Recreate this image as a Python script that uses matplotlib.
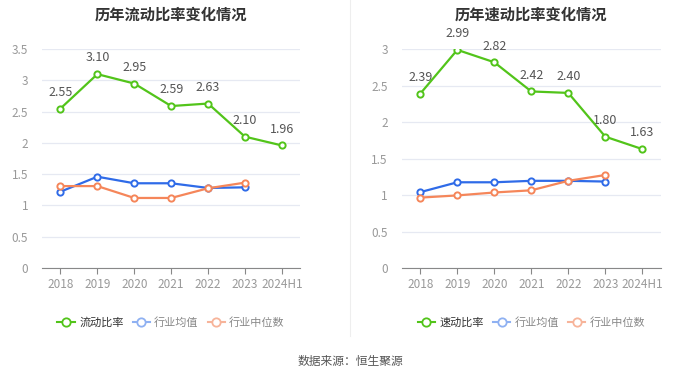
import matplotlib
matplotlib.use("Agg")
import matplotlib.pyplot as plt
from matplotlib.lines import Line2D

plt.rcParams['font.family'] = ['Noto Sans CJK SC', 'DejaVu Sans']

years = ['2018', '2019', '2020', '2021', '2022', '2023', '2024H1']

current_ratio = [2.55, 3.10, 2.95, 2.59, 2.63, 2.10, 1.96]
current_avg = [1.22, 1.46, 1.355, 1.355, 1.28, 1.29]
current_median = [1.31, 1.31, 1.12, 1.12, 1.275, 1.365]

quick_ratio = [2.39, 2.99, 2.82, 2.42, 2.40, 1.80, 1.63]
quick_avg = [1.04, 1.175, 1.175, 1.195, 1.195, 1.185]
quick_median = [0.965, 0.995, 1.035, 1.065, 1.195, 1.275]

GREEN = '#52c41a'
BLUE = '#2f6be8'
ORANGE = '#f5865a'
GRID = '#e6e9f2'
TICK = '#999999'


def draw(ax, title, main, avg, med, main_name, ymax):
    x = list(range(len(years)))
    ax.plot(x, main, color=GREEN, lw=1.6, marker='o', ms=4.5,
            mfc='white', mec=GREEN, mew=1.4, zorder=4)
    ax.plot(x[:len(avg)], avg, color=BLUE, lw=1.6, marker='o', ms=4.5,
            mfc='white', mec=BLUE, mew=1.4, zorder=3)
    ax.plot(x[:len(med)], med, color=ORANGE, lw=1.6, marker='o', ms=4.5,
            mfc='white', mec=ORANGE, mew=1.4, zorder=3)
    for i, v in enumerate(main):
        ax.annotate(f'{v:.2f}', (i, v), xytext=(0, 7), textcoords='offset points',
                    ha='center', va='bottom', fontsize=9, color='#555555')
    ax.set_xlim(-0.5, len(years) - 0.5)
    ax.set_ylim(0, ymax)
    ticks = [t * 0.5 for t in range(int(ymax / 0.5) + 1)]
    ax.set_yticks(ticks)
    ax.set_yticklabels([f'{t:g}' for t in ticks])
    ax.set_xticks(x)
    ax.set_xticklabels(years)
    ax.grid(axis='y', color=GRID, lw=0.9)
    ax.set_axisbelow(True)
    for s in ['top', 'right', 'left']:
        ax.spines[s].set_visible(False)
    ax.spines['bottom'].set_color('#888888')
    ax.tick_params(axis='y', length=0, colors=TICK, labelsize=8.5, pad=10)
    ax.tick_params(axis='x', length=4, color='#888888', colors=TICK, labelsize=8.5)
    ax.set_title(title, fontsize=11, fontweight='bold', color='#333333', pad=21)

    handles = [
        Line2D([], [], color=GREEN, lw=1.5, marker='o', ms=6, mfc='white', mec=GREEN, mew=1.3),
        Line2D([], [], color='#8fb1f2', lw=1.5, marker='o', ms=6, mfc='white', mec='#8fb1f2', mew=1.3),
        Line2D([], [], color='#f7b49a', lw=1.5, marker='o', ms=6, mfc='white', mec='#f7b49a', mew=1.3),
    ]
    leg = ax.legend(handles, [main_name, '行业均值', '行业中位数'], loc='upper center',
                    bbox_to_anchor=(0.5, -0.18), ncol=3, frameon=False, fontsize=8,
                    handlelength=1.6, columnspacing=0.8, handletextpad=0.35)
    texts = leg.get_texts()
    texts[0].set_color('#333333')
    texts[1].set_color('#888888')
    texts[2].set_color('#888888')


fig = plt.figure(figsize=(7, 3.78), dpi=100)
ax1 = fig.add_axes([0.06, 0.291, 0.369, 0.579])
ax2 = fig.add_axes([0.574, 0.291, 0.370, 0.579])

draw(ax1, '历年流动比率变化情况', current_ratio, current_avg, current_median, '流动比率', 3.5)
draw(ax2, '历年速动比率变化情况', quick_ratio, quick_avg, quick_median, '速动比率', 3.0)

fig.add_artist(Line2D([0.5, 0.5], [0.11, 1.0], color='#eeeeee', lw=0.8))
fig.text(0.5, 0.045, '数据来源：恒生聚源', ha='center', va='center', fontsize=8.5, color='#555555')

fig.savefig('out.png', dpi=100)
